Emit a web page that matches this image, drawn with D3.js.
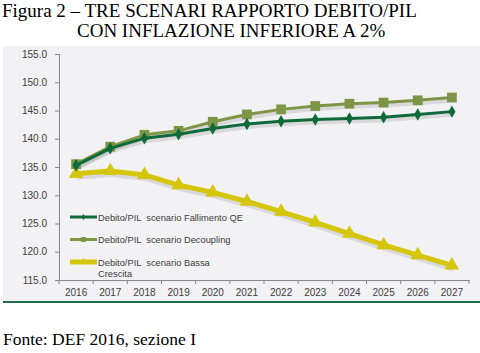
<!DOCTYPE html>
<html>
<head>
<meta charset="utf-8">
<script src="https://cdn.jsdelivr.net/npm/d3@7"></script>
<style>
  body { margin: 0; background: #fff; }
</style>
</head>
<body>
<svg width="480" height="353"></svg>
<script>
var years = ["2016","2017","2018","2019","2020","2021","2022","2023","2024","2025","2026","2027"];
var fallimentoQE = [135.3, 138.3, 140.1, 140.8, 141.8, 142.6, 143.1, 143.4, 143.6, 143.8, 144.3, 144.8];
var decoupling   = [135.5, 138.6, 140.7, 141.4, 143.0, 144.3, 145.2, 145.8, 146.2, 146.4, 146.8, 147.3];
var bassaCrescita = [133.8, 134.3, 133.6, 131.8, 130.5, 128.9, 127.1, 125.2, 123.2, 121.2, 119.4, 117.6];
var yTicks = [115, 120, 125, 130, 135, 140, 145, 150, 155];

var svg = d3.select("svg");

// titolo
svg.append("text").attr("x", 2).attr("y", 17)
  .style("font-family", "Liberation Serif").style("font-size", "19px")
  .text("Figura 2 \u2013 TRE SCENARI RAPPORTO DEBITO/PIL");
svg.append("text").attr("x", 77).attr("y", 37)
  .style("font-family", "Liberation Serif").style("font-size", "19px")
  .text("CON INFLAZIONE INFERIORE A 2%");

// pannello
svg.append("rect").attr("x", 3).attr("y", 46).attr("width", 477).attr("height", 255).attr("fill", "#f2f1f3");
svg.append("line").attr("x1", 3).attr("x2", 480).attr("y1", 302).attr("y2", 302)
  .attr("stroke", "#1f6b45").attr("stroke-width", 2);

var x = d3.scaleBand().domain(years).range([59, 469]);
var y = d3.scaleLinear().domain([115, 155]).range([280, 54]);

var g = svg.append("g").style("font-family", "Liberation Sans, Arial").style("font-size", "10px");

g.append("g").attr("transform", "translate(59,0)")
  .call(d3.axisLeft(y).tickValues(yTicks).tickFormat(d3.format(".1f")).tickSize(4))
  .call(function(a){
    a.select(".domain").attr("stroke", "#888");
    a.selectAll(".tick line").attr("stroke", "#888").attr("x1", 0).attr("x2", -4);
    a.selectAll(".tick text").attr("fill", "#404040").attr("x", -12);
  });

var xAxis = g.append("g").attr("transform", "translate(0,280)")
  .call(d3.axisBottom(x).tickSize(0).tickPadding(9))
  .call(function(a){
    a.select(".domain").attr("stroke", "#888");
    a.selectAll(".tick text").attr("fill", "#404040");
  });
// tacche tra le categorie
xAxis.selectAll(".sep").data(years.concat(["end"])).enter().append("line")
  .attr("x1", function(d, i){ return x.range()[0] + i * x.step(); })
  .attr("x2", function(d, i){ return x.range()[0] + i * x.step(); })
  .attr("y1", 0).attr("y2", 4).attr("stroke", "#888");

var cx = function(d, i){ return x(years[i]) + x.bandwidth() / 2; };
var line = d3.line().x(cx).y(function(d){ return y(d); });

var series = [
  { name: "Debito/PIL  scenario Bassa", name2: "Crescita", data: bassaCrescita, color: "#d6c60a", width: 5, shape: d3.symbolTriangle, size: 90 },
  { name: "Debito/PIL  scenario Decoupling", data: decoupling, color: "#7d9646", width: 3, shape: d3.symbolSquare, size: 95 },
  { name: "Debito/PIL  scenario Fallimento QE", data: fallimentoQE, color: "#0f6a3a", width: 3, shape: d3.symbolDiamond, size: 45 }
];

// ombre
series.forEach(function(s){
  g.append("path").datum(s.data).attr("d", line)
    .attr("transform", "translate(1,3)")
    .attr("fill", "none").attr("stroke", "#000").attr("stroke-opacity", 0.1)
    .attr("stroke-width", s.width + 1).attr("stroke-linejoin", "round");
});

series.forEach(function(s){
  g.append("path").datum(s.data).attr("d", line)
    .attr("fill", "none").attr("stroke", s.color)
    .attr("stroke-width", s.width).attr("stroke-linejoin", "round");
  g.selectAll(null).data(s.data).enter().append("path")
    .attr("d", d3.symbol().type(s.shape).size(s.size))
    .attr("transform", function(d, i){ return "translate(" + cx(d, i) + "," + y(d) + ")"; })
    .attr("fill", s.color);
});

// legenda
var legend = [series[2], series[1], series[0]];
var leg = g.selectAll(".leg").data(legend).enter().append("g")
  .attr("transform", function(d, i){ return "translate(70," + (217 + i * 22.5) + ")"; });
leg.append("line").attr("x1", 0).attr("x2", 27).attr("y1", 0).attr("y2", 0)
  .attr("stroke", function(d){ return d.color; })
  .attr("stroke-width", function(d){ return d.width; });
leg.append("path")
  .attr("d", function(d){ return d3.symbol().type(d.shape).size(d.size * 0.25)(); })
  .attr("transform", "translate(13.5,0)")
  .attr("fill", function(d){ return d.color; });
leg.append("text").attr("x", 28).attr("y", 3.5).attr("fill", "#404040")
  .style("font-size", "9.3px").style("white-space", "pre").text(function(d){ return d.name; });
leg.filter(function(d){ return d.name2; }).append("text")
  .attr("x", 28).attr("y", 15).attr("fill", "#404040")
  .style("font-size", "9.3px").text(function(d){ return d.name2; });

// fonte
svg.append("text").attr("x", 3).attr("y", 345)
  .style("font-family", "Liberation Serif").style("font-size", "17.5px")
  .text("Fonte: DEF 2016, sezione I");
</script>
</body>
</html>
